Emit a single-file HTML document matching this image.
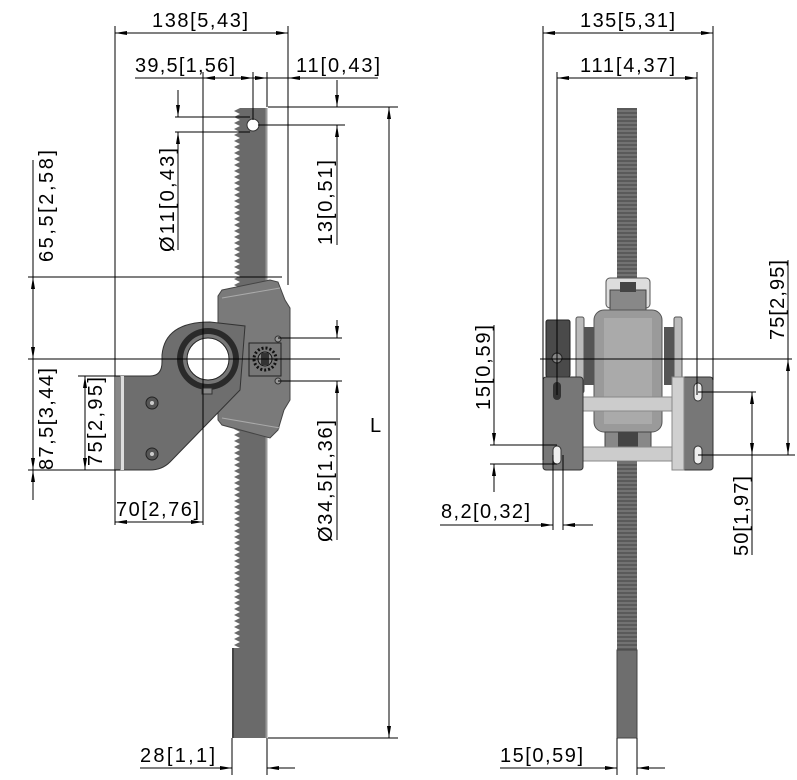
<!DOCTYPE html>
<html><head><meta charset="utf-8"><style>
html,body{margin:0;padding:0;background:#fff}
svg{display:block}
text{font-family:"Liberation Sans",sans-serif;font-size:20px;fill:#000}
</style></head><body>
<svg width="797" height="780" viewBox="0 0 797 780" xmlns="http://www.w3.org/2000/svg">
<defs>
<marker id="a" viewBox="0 0 12 6" refX="12" refY="3" markerWidth="12" markerHeight="6" orient="auto-start-reverse" markerUnits="userSpaceOnUse"><path d="M0,1 L12,3 L0,5 Z" fill="#000"/></marker>
<pattern id="teeth" width="8" height="6" patternUnits="userSpaceOnUse"><rect width="8" height="6" fill="#fff"/><path d="M8,0 L2,3 L8,6 Z" fill="#6a6a6a"/></pattern>
<pattern id="rk" width="20" height="4" patternUnits="userSpaceOnUse"><rect width="20" height="4" fill="#5a5a5a"/><rect y="2.5" width="20" height="1" fill="#8a8a8a"/></pattern>
</defs>

<!-- ===== LEFT VIEW ===== -->
<rect x="240" y="108" width="26" height="630" fill="#6a6a6a"/>
<rect x="232" y="108" width="8" height="540" fill="url(#teeth)"/>
<rect x="232" y="648" width="8" height="90" fill="#6a6a6a"/>
<rect x="232" y="648" width="2" height="90" fill="#444"/>
<line x1="266.5" y1="108" x2="266.5" y2="738" stroke="#999" stroke-width="2"/>
<circle cx="253" cy="125" r="6" fill="#fff" stroke="#333"/>
<path d="M222,290 L270,280 L278,282 L285,300 L290,308 L290,400 L284,410 L278,430 L270,438 L222,425 L218,420 L218,296 Z" fill="#7a7a7a" stroke="#444"/>
<path d="M222,298 L280,288 M222,418 L280,428" stroke="#aaa"/>
<path d="M120,376 L150,376 Q162,376 162,362 L162,355 Q165,322 210,322 L245,326 L240,390 L170,462 Q162,470 150,470 L120,470 Z" fill="#6e6e6e" stroke="#333"/>
<rect x="116" y="376" width="5" height="94" fill="#888"/>
<rect x="121" y="376" width="3" height="94" fill="#ddd"/>
<circle cx="152" cy="403" r="6" fill="#555" stroke="#222"/><circle cx="152" cy="403" r="2" fill="#ccc"/>
<circle cx="152" cy="454" r="6" fill="#555" stroke="#222"/><circle cx="152" cy="454" r="2" fill="#ccc"/>
<circle cx="208" cy="359" r="31" fill="#2a2a2a"/>
<circle cx="208" cy="359" r="25" fill="#777"/>
<circle cx="208" cy="359" r="21" fill="#fff" stroke="#222"/>
<rect x="202" y="388" width="10" height="6" fill="#888" stroke="#333"/>
<rect x="249" y="343" width="32" height="33" fill="#777" stroke="#222"/>
<circle cx="265" cy="359" r="11" fill="none" stroke="#111" stroke-width="3" stroke-dasharray="2 2"/>
<circle cx="265" cy="359" r="7" fill="#888" stroke="#111"/>
<rect x="261" y="353" width="8" height="12" fill="#333"/>
<circle cx="278" cy="339" r="3" fill="#999" stroke="#333"/>
<circle cx="278" cy="381" r="3" fill="#999" stroke="#333"/>

<g stroke="#000" stroke-width="1" fill="none">
<line x1="115" y1="26" x2="115" y2="525"/>
<line x1="288" y1="26" x2="288" y2="285"/>
<line x1="203" y1="72" x2="203" y2="525"/>
<line x1="253" y1="72" x2="253" y2="120"/>
<line x1="267" y1="72" x2="267" y2="107"/>
<line x1="175" y1="117" x2="250" y2="117"/>
<line x1="175" y1="132" x2="250" y2="132"/>
<line x1="258" y1="125" x2="345" y2="125"/>
<line x1="268" y1="107" x2="398" y2="107"/>
<line x1="268" y1="738" x2="398" y2="738"/>
<line x1="28" y1="277" x2="282" y2="277"/>
<line x1="28" y1="359" x2="340" y2="359"/>
<line x1="28" y1="470" x2="120" y2="470"/>
<line x1="78" y1="376" x2="120" y2="376"/>
<line x1="278" y1="338" x2="342" y2="338"/>
<line x1="278" y1="381" x2="342" y2="381"/>
<line x1="232" y1="738" x2="232" y2="775"/>
<line x1="267" y1="738" x2="267" y2="775"/>
<line x1="115" y1="33" x2="288" y2="33" marker-start="url(#a)" marker-end="url(#a)"/>
<line x1="135" y1="78" x2="203" y2="78"/>
<line x1="203" y1="78" x2="253" y2="78" marker-start="url(#a)" marker-end="url(#a)"/>
<line x1="267" y1="78" x2="378" y2="78"/>
<line x1="253" y1="78" x2="267" y2="78" marker-end="url(#a)"/>
<line x1="300" y1="78" x2="288" y2="78" marker-end="url(#a)"/>
<line x1="178" y1="90" x2="178" y2="117" marker-end="url(#a)"/>
<line x1="178" y1="250" x2="178" y2="132" marker-end="url(#a)"/>
<line x1="337" y1="80" x2="337" y2="107" marker-end="url(#a)"/>
<line x1="337" y1="245" x2="337" y2="125" marker-end="url(#a)"/>
<line x1="337" y1="320" x2="337" y2="338" marker-end="url(#a)"/>
<line x1="337" y1="540" x2="337" y2="381" marker-end="url(#a)"/>
<line x1="33" y1="160" x2="33" y2="277"/>
<line x1="33" y1="277" x2="33" y2="359" marker-start="url(#a)" marker-end="url(#a)"/>
<line x1="33" y1="359" x2="33" y2="470" marker-end="url(#a)"/>
<line x1="33" y1="500" x2="33" y2="470" marker-end="url(#a)"/>
<line x1="85" y1="376" x2="85" y2="470" marker-start="url(#a)" marker-end="url(#a)"/>
<line x1="115" y1="522" x2="203" y2="522" marker-start="url(#a)" marker-end="url(#a)"/>
<line x1="389" y1="107" x2="389" y2="738" marker-start="url(#a)" marker-end="url(#a)"/>
<line x1="140" y1="768" x2="232" y2="768" marker-end="url(#a)"/>
<line x1="295" y1="768" x2="267" y2="768" marker-end="url(#a)"/>
</g>
<text x="152" y="27" textLength="96" lengthAdjust="spacing">138[5,43]</text>
<text x="135" y="72" textLength="100" lengthAdjust="spacing">39,5[1,56]</text>
<text x="296" y="72" textLength="84" lengthAdjust="spacing">11[0,43]</text>
<text x="140" y="762" textLength="75" lengthAdjust="spacing">28[1,1]</text>
<text x="116" y="516" textLength="83" lengthAdjust="spacing">70[2,76]</text>
<text x="370" y="432">L</text>
<text transform="translate(53,262) rotate(-90)" textLength="112" lengthAdjust="spacing">65,5[2,58]</text>
<text transform="translate(53,470) rotate(-90)" textLength="102" lengthAdjust="spacing">87,5[3,44]</text>
<text transform="translate(102,466) rotate(-90)" textLength="89" lengthAdjust="spacing">75[2,95]</text>
<text transform="translate(174,252) rotate(-90)" textLength="104" lengthAdjust="spacing">Ø11[0,43]</text>
<text transform="translate(332,245) rotate(-90)" textLength="85" lengthAdjust="spacing">13[0,51]</text>
<text transform="translate(332,542) rotate(-90)" textLength="122" lengthAdjust="spacing">Ø34,5[1,36]</text>

<!-- ===== RIGHT VIEW ===== -->
<rect x="617" y="108" width="20" height="182" fill="url(#rk)"/>
<rect x="617" y="430" width="20" height="220" fill="url(#rk)"/>
<rect x="617" y="650" width="20" height="88" fill="#6e6e6e" stroke="#444"/>
<rect x="606" y="278" width="44" height="30" rx="4" fill="#ddd" stroke="#555"/>
<rect x="610" y="290" width="36" height="22" fill="#888" stroke="#444"/>
<rect x="620" y="282" width="16" height="10" fill="#444"/>
<rect x="594" y="310" width="68" height="122" rx="10" fill="#9a9a9a" stroke="#555"/>
<rect x="604" y="318" width="48" height="106" fill="#aaa"/>
<rect x="605" y="432" width="46" height="20" fill="#888" stroke="#444"/>
<rect x="618" y="432" width="20" height="18" fill="#444"/>
<rect x="576" y="317" width="8" height="76" rx="2" fill="#bbb" stroke="#555"/>
<rect x="584" y="327" width="10" height="58" fill="#555"/>
<rect x="664" y="327" width="10" height="58" fill="#555"/>
<rect x="674" y="317" width="8" height="76" rx="2" fill="#bbb" stroke="#555"/>
<rect x="546" y="320" width="24" height="57" rx="2" fill="#4a4a4a" stroke="#222"/>
<circle cx="557" cy="358" r="5" fill="#888" stroke="#222"/>
<rect x="583" y="397" width="90" height="14" fill="#ccc" stroke="#888"/>
<rect x="583" y="447" width="90" height="14" fill="#ccc" stroke="#888"/>
<rect x="543" y="377" width="40" height="93" rx="3" fill="#777" stroke="#333"/>
<rect x="672" y="377" width="41" height="93" rx="3" fill="#777" stroke="#333"/>
<rect x="672" y="377" width="12" height="93" fill="#d0d0d0" stroke="#888"/>
<rect x="553" y="382" width="8" height="18" rx="4" fill="#333"/>
<rect x="553" y="446" width="8" height="18" rx="4" fill="#eee" stroke="#333"/>
<rect x="694" y="383" width="8" height="18" rx="4" fill="#eee" stroke="#333"/>
<rect x="694" y="446" width="8" height="18" rx="4" fill="#eee" stroke="#333"/>

<g stroke="#000" stroke-width="1" fill="none">
<line x1="543" y1="26" x2="543" y2="460"/>
<line x1="713" y1="26" x2="713" y2="380"/>
<line x1="557" y1="72" x2="557" y2="395"/>
<line x1="697" y1="72" x2="697" y2="395"/>
<line x1="543" y1="33" x2="713" y2="33" marker-start="url(#a)" marker-end="url(#a)"/>
<line x1="557" y1="78" x2="697" y2="78" marker-start="url(#a)" marker-end="url(#a)"/>
<line x1="540" y1="359" x2="792" y2="359"/>
<line x1="698" y1="392" x2="756" y2="392"/>
<line x1="698" y1="455" x2="795" y2="455"/>
<line x1="490" y1="445" x2="557" y2="445"/>
<line x1="490" y1="464" x2="557" y2="464"/>
<line x1="553" y1="455" x2="553" y2="530"/>
<line x1="563" y1="455" x2="563" y2="530"/>
<line x1="494" y1="325" x2="494" y2="445" marker-end="url(#a)"/>
<line x1="494" y1="492" x2="494" y2="464" marker-end="url(#a)"/>
<line x1="440" y1="525" x2="553" y2="525" marker-end="url(#a)"/>
<line x1="593" y1="525" x2="563" y2="525" marker-end="url(#a)"/>
<line x1="752" y1="392" x2="752" y2="455" marker-start="url(#a)" marker-end="url(#a)"/>
<line x1="752" y1="455" x2="752" y2="555"/>
<line x1="788" y1="260" x2="788" y2="359"/>
<line x1="788" y1="359" x2="788" y2="455" marker-start="url(#a)" marker-end="url(#a)"/>
<line x1="617" y1="738" x2="617" y2="775"/>
<line x1="637" y1="738" x2="637" y2="775"/>
<line x1="500" y1="768" x2="617" y2="768" marker-end="url(#a)"/>
<line x1="665" y1="768" x2="637" y2="768" marker-end="url(#a)"/>
</g>
<text x="580" y="27" textLength="95" lengthAdjust="spacing">135[5,31]</text>
<text x="580" y="72" textLength="95" lengthAdjust="spacing">111[4,37]</text>
<text x="441" y="518" textLength="89" lengthAdjust="spacing">8,2[0,32]</text>
<text x="500" y="762" textLength="83" lengthAdjust="spacing">15[0,59]</text>
<text transform="translate(490,410) rotate(-90)" textLength="85" lengthAdjust="spacing">15[0,59]</text>
<text transform="translate(748,556) rotate(-90)" textLength="80" lengthAdjust="spacing">50[1,97]</text>
<text transform="translate(784,340) rotate(-90)" textLength="80" lengthAdjust="spacing">75[2,95]</text>
</svg>
</body></html>
